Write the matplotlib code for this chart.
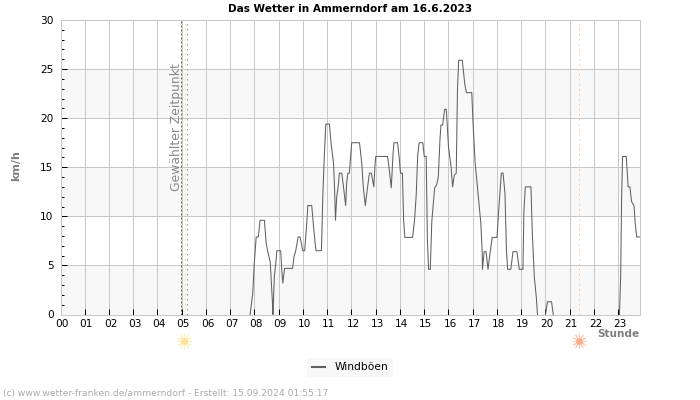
#!/usr/bin/env python3
# -*- coding: utf-8 -*-
import matplotlib
matplotlib.use('Agg')
import matplotlib.pyplot as plt
from matplotlib.transforms import ScaledTranslation

nan = float('nan')

### Data (nan where the line lies on the zero axis)
hours = [7.82, 7.93, 7.99, 8.07, 8.16, 8.23, 8.41, 8.48, 8.54, 8.65, 8.74, 8.76, 8.82, 8.89, 8.92,
         9.08, 9.13, 9.17, 9.24, 9.57, 9.63, 9.70, 9.80, 9.88, 9.99, 10.07, 10.16, 10.2, 10.36, 10.43,
         10.5, 10.54, 10.76, 10.82, 10.87, 10.94, 11.09, 11.16, 11.26, 11.3, 11.34, 11.39, 11.46, 11.5,
         11.6, 11.67, 11.76, 11.8, 11.85, 11.91, 12.01, 12.33, 12.42, 12.49, 12.57, 12.66, 12.74, 12.82,
         12.92, 12.97, 13.0, 13.49, 13.56, 13.64, 13.71, 13.75, 13.9, 13.97, 14.02, 14.1, 14.15, 14.2,
         14.52, 14.6, 14.67, 14.73, 14.79, 14.94, 15.0, 15.08, 15.13, 15.18, 15.25, 15.31, 15.38, 15.43,
         15.51, 15.58, 15.65, 15.69, 15.76, 15.84, 15.91, 16.0, 16.1, 16.17, 16.24, 16.32, 16.37, 16.42,
         16.57, 16.67, 16.74, 16.96, 17.02, 17.1, 17.18, 17.26, 17.33, 17.39, 17.4, 17.47, 17.55, 17.63,
         17.7, 17.8, 18.0, 18.07, 18.18, 18.25, 18.33, 18.39, 18.44, 18.57, 18.66, 18.82, 18.92, 19.07,
         19.11, 19.17, 19.4, 19.46, 19.54, 19.62, 19.67, 19.8, 20.0, 20.08, 20.25, 20.32, 22.0, 23.05, 23.1, 23.14,
         23.18, 23.33, 23.41, 23.48, 23.55, 23.65, 23.7, 23.76, 23.87]
gusts = [0, 2.2, 5.2, 7.9, 7.9, 9.6, 9.6, 7.3, 6.5, 5.3, 1.2, 0, 3.9, 5.5, 6.5,
         6.5, 4.3, 3.2, 4.7, 4.7, 5.9, 6.5, 7.9, 7.9, 6.5, 6.5, 9.5, 11.1, 11.1, 9.1,
         7.25, 6.5, 6.5, 12.3, 15.6, 19.4, 19.4, 17.4, 15.4, 13, 9.6, 12, 13.2, 14.4,
         14.4, 13, 11.1, 13.4, 14.4, 14.4, 17.5, 17.5, 15.5, 12.9, 11.1, 12.9, 14.4, 14.4,
         13, 15.2, 16.1, 16.1, 14.7, 12.9, 16.2, 17.5, 17.5, 15.9, 14.4, 14.4, 9.6, 7.85,
         7.85, 9.6, 12.2, 16.2, 17.5, 17.5, 16.1, 16.1, 7.6, 4.6, 4.6, 9.4, 11.5, 12.9,
         13.2, 14, 17.9, 19.3, 19.3, 20.9, 20.9, 17.1, 15.2, 13, 14.2, 14.4, 22.9, 25.9,
         25.9, 23.5, 22.6, 22.6, 19.1, 15.4, 13.3, 11.1, 9.4, 6.4, 4.6, 6.4, 6.4, 4.6,
         6, 7.85, 7.85, 10.6, 14.4, 14.4, 12.3, 6.5, 4.6, 4.6, 6.4, 6.4, 4.6, 4.6,
         10.6, 13, 13, 8.1, 3.8, 1.8, 0, nan, 0, 1.3, 1.3, 0, nan, 0, 3.8, 12,
         16.1, 16.1, 13, 13, 11.5, 11.1, 9.3, 7.9, 7.9]
hour_labels = ['%02d' % h for h in range(24)]
selected_time = 4.98
sunrise = 5.13
sunrise_mark = 5.2
sunset = 21.39

fig = plt.figure(figsize=(7, 4), dpi=100)
ax = fig.add_axes([60.5/700, 1-314.5/400, (640.3-60.5)/700, (314.5-20)/400])

### Bands and grid
for low in [0, 10, 20]:
    ax.axhspan(low, low+5, color='#f8f8f8', lw=0, zorder=0)
ax.grid(True, which='major', color='#c8c8c8', lw=0.72, zorder=1)
ax.set_axisbelow(True)

### Vertical markers
ax.axvline(selected_time, color='#666666', lw=0.72, ls=(0, (2, 2)), zorder=2)
ax.axvline(sunrise, color='#f3e68c', lw=0.72, ls=(0, (2, 3)), zorder=2)
ax.axvline(sunrise_mark, color='#999999', lw=0.72, ls=(0, (1.5, 3.5)), zorder=2)
ax.axvline(sunset, color='#f8c9a0', lw=0.72, ls=(0, (1.5, 3.5)), zorder=2)
ax.text(4.78, 12.6, 'Gewählter Zeitpunkt', rotation=90, color='#888888', fontsize=8.9,
        ha='center', va='bottom')

### Wind gusts
ax.plot(hours, gusts, color='#606060', lw=0.75, zorder=3, label='Windböen')

ax.set_xlim(0, 23.91)
ax.set_ylim(0, 30)
ax.set_xticks(range(24))
ax.set_xticklabels(hour_labels)
ax.set_yticks(range(0, 31, 5))
ax.set_yticks(range(0, 31), minor=True)
ax.tick_params(axis='both', which='major', direction='in', length=4, width=0.72, color='black',
               labelsize=7.6)
ax.tick_params(axis='y', which='major', pad=5)
ax.tick_params(axis='x', which='major', pad=3)
ax.tick_params(axis='y', which='minor', direction='in', length=2, width=0.72, color='black')
for side in ax.spines:
    ax.spines[side].set_color('#c8c8c8')
    ax.spines[side].set_linewidth(0.72)
    ax.spines[side].set_zorder(5)
shift = ScaledTranslation(1.5/100, 0, fig.dpi_scale_trans)
for lab in ax.get_xticklabels():
    lab.set_transform(lab.get_transform() + shift)

### Sun icons below the axis
trans = ax.get_xaxis_transform()
ax.scatter([5.1], [-0.09], marker=(12, 2, 0), s=100, color='#fdeebc', lw=0.8,
           transform=trans, clip_on=False)
ax.scatter([5.1], [-0.09], marker='o', s=24, color='#fde3a0', lw=0,
           transform=trans, clip_on=False)
ax.scatter([sunset-0.02], [-0.09], marker=(12, 2, 0), s=100, color='#fed0bc', lw=0.8,
           transform=trans, clip_on=False)
ax.scatter([sunset-0.02], [-0.09], marker='o', s=24, color='#fbaf92', lw=0,
           transform=trans, clip_on=False)

### Texts
fig.text(350/700, 1-8.5/400, 'Das Wetter in Ammerndorf am 16.6.2023', fontsize=7.6, fontweight='bold',
         ha='center', va='center')
fig.text(16/700, 1-166/400, 'km/h', fontsize=8, fontweight='bold', color='#808080', rotation=90,
         ha='center', va='center')
fig.text(640/700, 1-334/400, 'Stunde', fontsize=7.6, fontweight='bold', color='#808080',
         ha='right', va='center')
fig.text(3/700, 1-393.5/400, '(c) www.wetter-franken.de/ammerndorf - Erstellt: 15.09.2024 01:55:17',
         fontsize=6.6, color='#aaaaaa', ha='left', va='center')

leg = fig.legend(loc='center', bbox_to_anchor=(350/700, 1-367.5/400), fontsize=7.7, frameon=True,
                 handlelength=1.2, handletextpad=0.9, borderpad=0.45, fancybox=False)
leg.get_frame().set_facecolor('#f8f8f8')
leg.get_frame().set_edgecolor('none')
leg.get_frame().set_alpha(1)
leg.get_lines()[0].set_linewidth(1.5)

plt.savefig('out.png', dpi=100)
plt.close()
